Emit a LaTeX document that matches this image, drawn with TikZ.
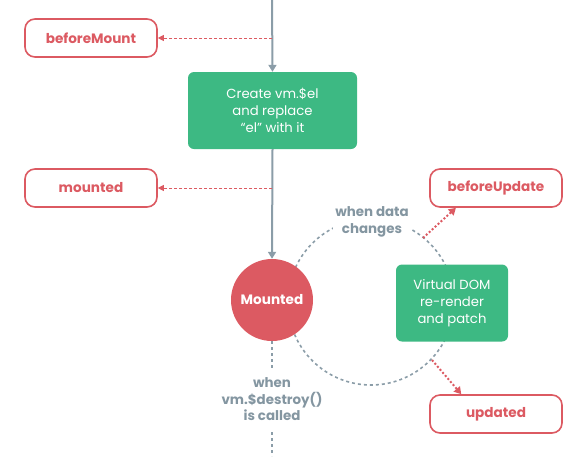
\documentclass[tikz,border=0pt]{standalone}
\usepackage{fontspec}
\setmainfont{Poppins}
\usetikzlibrary{arrows.meta,calc}
\definecolor{vgreen}{HTML}{3DB983}
\definecolor{vred}{HTML}{DC5A62}
\definecolor{vgray}{HTML}{8B9DA8}
\definecolor{vtext}{HTML}{8496A1}
\begin{document}
\begin{tikzpicture}[x=1pt,y=-1pt,
  hook/.style={draw=vred, line width=1.6pt, rounded corners=10pt, fill=white,
    minimum width=132pt, minimum height=38pt, text=vred, inner sep=0pt,
    font=\bfseries\fontsize{13.6}{15}\selectfont},
  proc/.style={fill=vgreen, rounded corners=6pt, text=white, align=center,
    inner sep=0pt, font=\fontsize{13.2}{17}\selectfont},
  note/.style={text=vtext, align=center, fill=white, inner sep=2pt,
    font=\bfseries\fontsize{13.4}{16.5}\selectfont},
  flow/.style={draw=vgray, line width=2pt, -{Triangle[length=7pt,width=8pt]}},
  hookarrow/.style={draw=vred, line width=1pt, dash pattern=on 3pt off 2pt,
    -{Triangle[length=6pt,width=6pt]}},
  hookdot/.style={draw=vred, line width=2pt, dash pattern=on 2pt off 2pt,
    -{Triangle[length=7pt,width=8pt]}},
  loop/.style={draw=vgray, line width=1.6pt, dash pattern=on 3pt off 3pt}
]
\useasboundingbox (0,0) rectangle (583,456);
% update loop
\coordinate (loopc) at (371,302);
\draw[loop] (loopc) circle (83pt);
% nodes
\coordinate (top) at (272,0);
\node[proc, minimum width=169pt, minimum height=77pt] (create) at (272.5,110.5)
  {Create vm.\$el\\and replace\\“el” with it};
\node[hook] (bm) at (91,38) {beforeMount};
\node[hook] (mtd) at (91,188) {mounted};
\node[circle, fill=vred, minimum size=82pt, inner sep=0pt, text=white,
  font=\bfseries\fontsize{13.6}{15}\selectfont] (mc) at (272,300) {Mounted};
\node[proc, minimum width=112pt, minimum height=77pt] (vdom) at (452,303)
  {Virtual DOM\\re-render\\and patch};
\node[hook] (bu) at (496,188) {beforeUpdate};
\node[hook] (up) at (496,414) {updated};
\node[note] (wdc) at (372,222) {when data\\changes};
\node[note, fill=none] (wd) at (272,399.5) {when\\vm.\$destroy()\\is called};
% connectors
\draw[flow] (top) -- (create.north);
\draw[flow] (create.south) -- (mc.north);
\coordinate (j1) at (272,38);
\coordinate (j2) at (272,188);
\draw[hookarrow] (j1) -- (bm.east);
\draw[hookarrow] (j2) -- (mtd.east);
\coordinate (u1) at (423,238);
\coordinate (u2) at (432,360);
\draw[hookdot] (u1) -- ($(bu.south west)!0.2!(bu.south east)$);
\draw[hookdot] (u2) -- ($(up.north west)!0.24!(up.north east)$);
\coordinate (d1) at (272,368);
\coordinate (d2) at (272,432);
\coordinate (d3) at (272,456);
\draw[loop] (mc.south) -- (d1);
\draw[loop] (d2) -- (d3);
\end{tikzpicture}
\end{document}
